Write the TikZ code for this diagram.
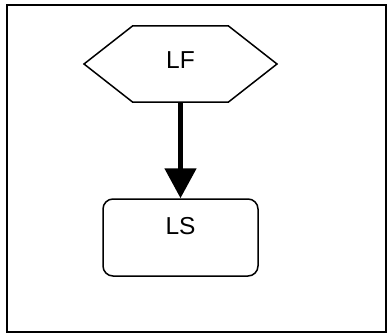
\documentclass[tikz,border=0pt]{standalone}
\usepackage{fontspec}
\setmainfont{Liberation Sans}
\usetikzlibrary{arrows.meta}
\begin{document}
\begin{tikzpicture}[x=1pt,y=-1pt,
  lbl/.style={font=\fontsize{24.5}{28}\selectfont, inner sep=0pt, anchor=center},
  box/.style={draw, line width=1.5pt, rounded corners=10pt, minimum width=155pt, minimum height=77pt, inner sep=0pt},
  conn/.style={line width=5pt, -{Triangle[width=31pt,length=30pt]}}]
\useasboundingbox (0,0) rectangle (387,334);
\draw[line width=2pt] (7,5) rectangle (386,332);
% hexagon LF
\draw[line width=1.5pt] (84,64) -- (132.5,26) -- (228.5,26) -- (277,64) -- (228.5,102) -- (132.5,102) -- cycle;
\coordinate (lfbot) at (180.5,102);
\node[lbl] (lf) at (180.5,60) {LF};
% rounded box LS
\node[box] (ls) at (180.5,237.5) {};
\node[lbl] (lstext) at (180.5,226.5) {LS};
\draw[conn] (lfbot) -- (ls.north);
\end{tikzpicture}
\end{document}
